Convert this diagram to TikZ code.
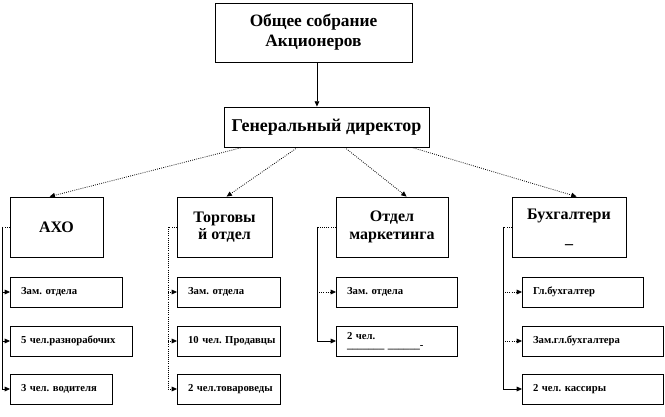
\documentclass[tikz,border=0pt]{standalone}
\usepackage{fontspec}
\setmainfont{Liberation Serif}
\usetikzlibrary{positioning, arrows.meta, calc}
\frenchspacing

\begin{document}
\begin{tikzpicture}[
  x=0.75pt, y=-0.75pt,
  font=\bfseries,
  line width=0.6pt,
  headbox/.style={draw, align=center, inner sep=0pt},
  deptbox/.style={draw, align=center, minimum height=45pt, inner sep=0pt, font=\fontsize{12}{13}\selectfont\bfseries},
  subbox/.style={draw, anchor=west, align=left, minimum height=22.5pt, inner xsep=8pt, inner ysep=0pt, text width=#1, font=\fontsize{8}{8.5}\selectfont\bfseries},
  link/.style={-{Triangle[length=4pt, width=3.5pt]}, densely dotted},
  feed/.style={-{Triangle[length=4pt, width=3.5pt]}}
]
\useasboundingbox (0,0) rectangle (665,417);

% top of the chart
\node[headbox, minimum width=147.75pt, minimum height=44.25pt, font=\fontsize{13}{15}\selectfont\bfseries] (GSM) at (313.5,32.5) {Общее собрание\\Акционеров};
\node[headbox, minimum width=153.75pt, minimum height=30pt, font=\fontsize{13.5}{15}\selectfont\bfseries] (GD) at (326.5,127) {Генеральный директор};
\draw[feed] ([xshift=2.6pt]GSM.south) -- ([xshift=2.6pt]GSM.south |- GD.north);

% departments
\node[deptbox, minimum width=69.75pt] (AXO) at (56.5,227) {АХО};
\node[deptbox, minimum width=71.25pt] (TRD) at (224.5,227) {Торговы\\й отдел};
\node[deptbox, minimum width=84pt] (MKT) at (392,227) {Отдел\\маркетинга};
\node[deptbox, minimum width=85.5pt] (ACC) at (569,227) {Бухгалтери\\[5pt]\_};

\draw[link] ([xshift=14.25pt]GD.south west) -- ([xshift=30pt]AXO.north west);
\draw[link] ([xshift=55.5pt]GD.south west) -- ([xshift=37.5pt]TRD.north west);
\draw[link] ([xshift=90.75pt]GD.south west) -- ([xshift=53.25pt]MKT.north west);
\draw[link] ([xshift=141pt]GD.south west) -- ([xshift=48.75pt]ACC.north west);

% AXO block
\node[subbox=68pt] (AXOs1) at (10,292) {Зам. отдела};
\node[subbox=75.5pt] (AXOs2) at (10,341) {\mbox{5 чел.разнорабочих}};
\node[subbox=60.5pt] (AXOs3) at (10,389) {3 чел. водителя};
\coordinate (AXOt) at (2,227);
\draw[densely dotted] (AXO.west) -- (AXOt);
\draw (AXOt) -- (AXOt |- AXOs3.west);
\draw[feed] (AXOt |- AXOs1.west) -- (AXOs1.west);
\draw[feed] (AXOt |- AXOs2.west) -- (AXOs2.west);
\draw[feed] (AXOt |- AXOs3.west) -- (AXOs3.west);

% TRD block
\node[subbox=61.25pt] (TRDs1) at (177,292) {Зам. отдела};
\node[subbox=61.25pt] (TRDs2) at (177,341) {\mbox{10 чел. Продавцы}};
\node[subbox=61.25pt] (TRDs3) at (177,389) {\mbox{2 чел.товароведы}};
\coordinate (TRDt) at (168,227);
\draw[densely dotted] (TRD.west) -- (TRDt) -- (TRDt |- TRDs3.west);
\draw[link] (TRDt |- TRDs1.west) -- (TRDs1.west);
\draw[link] (TRDt |- TRDs2.west) -- (TRDs2.west);
\draw[link] (TRDt |- TRDs3.west) -- (TRDs3.west);

% MKT block
\node[subbox=74.75pt] (MKTs1) at (336,292) {Зам. отдела};
\node[subbox=74.75pt] (MKTs2) at (336,341) {2 чел.\\[-2pt]\_\_\_\_\_\_\_ \_\_\_\_\_\_-};
\coordinate (MKTt) at (317,227);
\draw[densely dotted] (MKT.west) -- (MKTt);
\draw (MKTt) -- (MKTt |- MKTs2.west);
\draw[link] (MKTt |- MKTs1.west) -- (MKTs1.west);
\draw[feed] (MKTt |- MKTs2.west) -- (MKTs2.west);

% ACC block
\node[subbox=74.75pt] (ACCs1) at (522,292) {Гл.бухгалтер};
\node[subbox=89.75pt] (ACCs2) at (522,341) {Зам.гл.бухгалтера};
\node[subbox=89.75pt] (ACCs3) at (522,389) {2 чел. кассиры};
\coordinate (ACCt) at (503,227);
\draw[densely dotted] (ACC.west) -- (ACCt);
\draw (ACCt) -- (ACCt |- ACCs3.west);
\draw[link] (ACCt |- ACCs1.west) -- (ACCs1.west);
\draw[link] (ACCt |- ACCs2.west) -- (ACCs2.west);
\draw[feed] (ACCt |- ACCs3.west) -- (ACCs3.west);

\end{tikzpicture}
\end{document}
